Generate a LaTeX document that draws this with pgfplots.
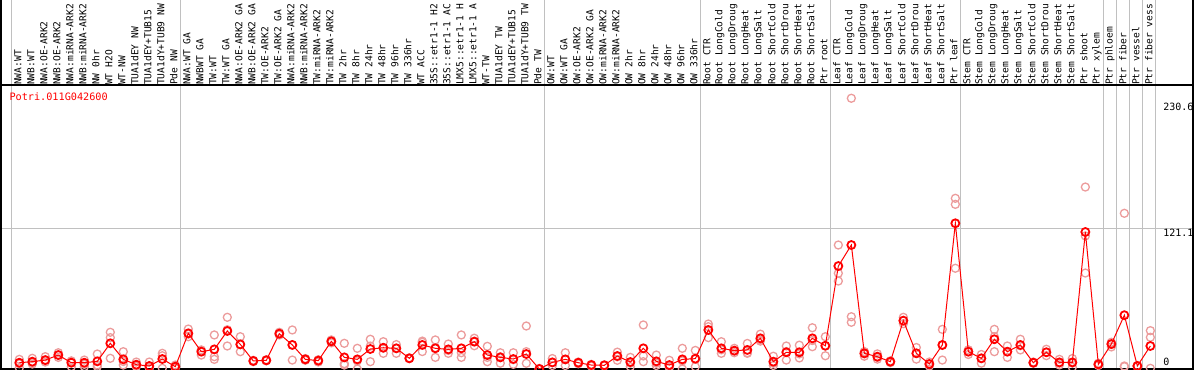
\documentclass[border=0pt]{standalone}
\usepackage{fontspec}
\usepackage{pgfplots}
\usepackage{pgfplotstable}
\pgfplotsset{compat=1.18}
\newfontfamily\pix{DejaVu Sans Mono}
\definecolor{pinkrep}{RGB}{236,156,156}
\definecolor{gridgray}{RGB}{192,192,192}

\pgfplotstableread{
x y
1 5.4
2 6.3
3 7.7
4 12.0
5 5.4
6 5.4
7 6.6
8 22.1
9 8.3
10 3.7
11 2.6
12 8.6
13 2.0
14 30.7
15 14.9
16 16.9
17 32.7
18 21.2
19 6.9
20 7.5
21 30.4
22 20.7
23 8.3
24 7.2
25 23.8
26 10.0
27 8.3
28 17.2
29 18.3
30 17.8
31 9.2
32 20.7
33 17.8
34 16.9
35 17.8
36 23.5
37 12.0
38 10.0
39 8.6
40 12.9
41 0.0
42 5.7
43 8.3
44 5.4
45 3.4
46 3.2
47 11.2
48 6.0
49 17.8
50 6.6
51 3.4
52 8.3
53 8.9
54 33.6
55 17.8
56 15.8
57 16.4
58 26.4
59 6.3
60 14.4
61 14.4
62 26.4
63 20.0
64 88.6
65 106.7
66 13.5
67 10.6
68 6.3
69 41.6
70 13.5
71 4.3
72 20.7
73 125.4
74 14.9
75 9.2
76 25.6
77 14.9
78 20.7
79 5.4
80 14.4
81 5.7
82 5.7
83 117.9
84 4.0
85 21.5
86 46.3
87 2.6
88 19.8
}\means

\pgfplotstableread{
x y
1 8.3
1 4.5
1 1.0
2 9.2
2 5.5
2 4.3
3 10.6
3 7.2
3 6.0
4 14.0
4 10.0
4 12.0
5 7.0
5 6.0
5 2.0
6 7.7
6 4.0
6 2.0
7 12.9
7 3.4
7 2.0
8 31.6
8 27.0
8 9.2
9 14.9
9 6.5
9 3.4
10 6.0
10 2.5
10 2.0
11 6.0
11 1.0
11 1.0
12 13.5
12 11.4
12 0.6
13 3.4
13 2.0
13 0.6
14 34.4
14 30.0
14 27.8
15 16.4
15 16.0
15 12.0
16 29.3
16 10.6
16 8.3
17 44.5
17 33.8
17 19.8
18 27.8
18 21.0
18 14.9
19 7.5
19 6.9
19 6.3
20 8.0
20 7.5
20 7.0
21 31.6
21 30.4
21 29.3
22 33.6
22 20.8
22 7.7
23 9.0
23 8.3
23 7.5
24 8.0
24 7.0
24 6.0
25 25.0
25 24.0
25 22.5
26 22.1
26 4.6
26 3.4
27 17.8
27 7.0
27 0.0
28 25.6
28 19.7
28 6.3
29 23.5
29 18.0
29 13.5
30 21.0
30 17.8
30 13.5
31 9.5
31 9.2
31 9.0
32 24.0
32 23.0
32 15.0
33 25.0
33 18.3
33 10.0
34 21.5
34 16.0
34 13.5
35 29.3
35 14.0
35 10.0
36 26.5
36 24.0
36 20.0
37 19.5
37 10.0
37 6.3
38 14.0
38 10.5
38 5.0
39 14.0
39 8.0
39 4.0
40 37.0
40 14.9
40 4.9
41 0.5
41 0.0
41 0.0
42 9.0
42 5.5
42 3.0
43 14.0
43 8.0
43 3.0
44 6.0
44 5.0
44 4.5
45 4.0
45 3.0
45 2.5
46 3.5
46 3.0
46 2.8
47 14.5
47 10.5
47 7.5
48 10.0
48 5.0
48 2.0
49 37.9
49 11.2
49 6.3
50 12.0
50 5.0
50 3.0
51 7.5
51 2.0
51 1.0
52 17.8
52 7.0
52 0.0
53 16.0
53 8.5
53 2.0
54 38.7
54 36.4
54 27.0
55 23.5
55 16.5
55 13.5
56 17.8
56 15.5
56 14.0
57 22.0
57 14.0
57 13.5
58 30.0
58 25.0
58 24.0
59 11.0
59 5.0
59 3.0
60 19.8
60 15.0
60 7.7
61 20.5
61 13.0
61 9.5
62 35.5
62 24.5
62 19.2
63 27.8
63 20.0
63 11.4
64 106.7
64 82.4
64 75.7
65 233.0
65 45.0
65 40.2
66 15.0
66 13.0
66 11.0
67 13.0
67 10.0
67 8.5
68 7.0
68 6.3
68 5.5
69 44.5
69 41.5
69 39.0
70 18.5
70 13.5
70 8.5
71 6.0
71 4.3
71 2.5
72 34.1
72 20.3
72 7.7
73 146.9
73 141.7
73 86.7
74 16.5
74 14.9
74 12.5
75 12.5
75 9.0
75 5.0
76 34.1
76 27.8
76 14.9
77 19.8
77 15.0
77 10.0
78 25.6
78 20.0
78 16.4
79 6.0
79 5.4
79 5.0
80 17.0
80 14.4
80 11.5
81 8.3
81 5.0
81 3.5
82 9.0
82 5.0
82 1.5
83 156.6
83 114.5
83 82.6
84 5.0
84 4.0
84 3.0
85 23.0
85 21.0
85 19.0
86 134.0
86 2.6
86 2.0
87 3.0
87 2.5
87 2.0
88 33.0
88 27.3
88 0.6
}\reps

\begin{document}
\begin{tikzpicture}
\useasboundingbox (-1bp,-1bp) rectangle (1193bp,369bp);
\clip (-1bp,-1bp) rectangle (1193bp,369bp);
\begin{axis}[
  scale only axis, width=1192bp, height=284bp,
  xmin=-0.4077, xmax=91.285, ymin=0, ymax=244.41,
  axis line style={draw=none},
  tick style={draw=none},
  major tick length=0pt,
  ytick=\empty,
  xtick={1,...,88},
  xticklabels={NWA:WT,NWB:WT,NWA:OE-ARK2,NWB:OE-ARK2,NWA:miRNA-ARK2,NWB:miRNA-ARK2,NW 0hr,WT H2O,WT-NW,TUA1dEY NW,TUA1dEY+TUB15,TUA1dY+TUB9 NW,Pde NW,
    NWA:WT GA,NWBWT GA,TW:WT,TW:WT GA,NWA:OE-ARK2 GA,NWB:OE-ARK2 GA,TW:OE-ARK2,TW:OE-ARK2 GA,NWA:miRNA-ARK2,NWB:miRNA-ARK2,TW:miRNA-ARK2,TW:miRNA-ARK2,TW 2hr,TW 8hr,TW 24hr,TW 48hr,TW 96hr,TW 336hr,WT ACC,35S::etr1-1 H2,35S::etr1-1 AC,LMX5::etr1-1 H,LMX5::etr1-1 A,WT-TW,TUA1dEY TW,TUA1dEY+TUB15,TUA1dY+TUB9 TW,Pde TW,
    OW:WT,OW:WT GA,OW:OE-ARK2,OW:OE-ARK2 GA,OW:miRNA-ARK2,OW:miRNA-ARK2,OW 2hr,OW 8hr,OW 24hr,OW 48hr,OW 96hr,OW 336hr,
    Root CTR,Root LongCold,Root LongDroug,Root LongHeat,Root LongSalt,Root ShortCold,Root ShortDrou,Root ShortHeat,Root ShortSalt,Ptr root,
    Leaf CTR,Leaf LongCold,Leaf LongDroug,Leaf LongHeat,Leaf LongSalt,Leaf ShortCold,Leaf ShortDrou,Leaf ShortHeat,Leaf ShortSalt,Ptr leaf,
    Stem CTR,Stem LongCold,Stem LongDroug,Stem LongHeat,Stem LongSalt,Stem ShortCold,Stem ShortDrou,Stem ShortHeat,Stem ShortSalt,Ptr shoot,Ptr xylem,Ptr phloem,Ptr fiber,Ptr vessel,Ptr fiber vess},
  xticklabel pos=right,
  xticklabel style={rotate=90, anchor=west, font=\pix\fontsize{9.6bp}{9.6bp}\selectfont, inner sep=0pt, yshift=1.5bp, text=black},
  clip mode=individual,
]
% grid lines
\pgfplotsinvokeforeach{0.385,13.385,41.385,53.385,63.385,73.385,84.385,85.385,86.385,87.385,88.385}{
  \draw[gridgray, line width=1bp] (axis cs:#1,-2) -- (axis cs:#1,320);
}
\draw[gridgray, line width=1bp] (axis cs:-0.4077,121.1) -- (axis cs:91.285,121.1);
% frame
\draw[black, line width=1.2bp] (axis cs:-0.4077,244.41) -- (axis cs:91.285,244.41);
\draw[black, line width=2bp] (axis cs:-0.4077,-2) -- (axis cs:-0.4077,320);
\draw[black, line width=2bp] (axis cs:91.285,-2) -- (axis cs:91.285,320);
\draw[black, line width=2bp] (axis cs:-0.4077,0) -- (axis cs:91.285,0);
% labels
\node[anchor=west, inner sep=0pt, text=red, font=\pix\fontsize{10.2bp}{10.2bp}\selectfont] at (axis cs:0.231,234.3) {Potri.011G042600};
\node[anchor=west, inner sep=0pt, font=\pix\fontsize{10bp}{10bp}\selectfont] at (axis cs:88.98,225.5) {230.6};
\node[anchor=west, inner sep=0pt, font=\pix\fontsize{10bp}{10bp}\selectfont] at (axis cs:88.98,117.3) {121.1};
\node[anchor=west, inner sep=0pt, font=\pix\fontsize{10bp}{10bp}\selectfont] at (axis cs:88.98,6.3) {0};
% data
\addplot[only marks, mark=o, mark size=4bp, color=pinkrep, mark options={line width=1.3bp}] table[x=x,y=y] {\reps};
\addplot[red, line width=1bp, mark=o, mark size=4bp, mark options={line width=1.8bp, red}] table[x=x,y=y] {\means};
\end{axis}
\end{tikzpicture}
\end{document}
